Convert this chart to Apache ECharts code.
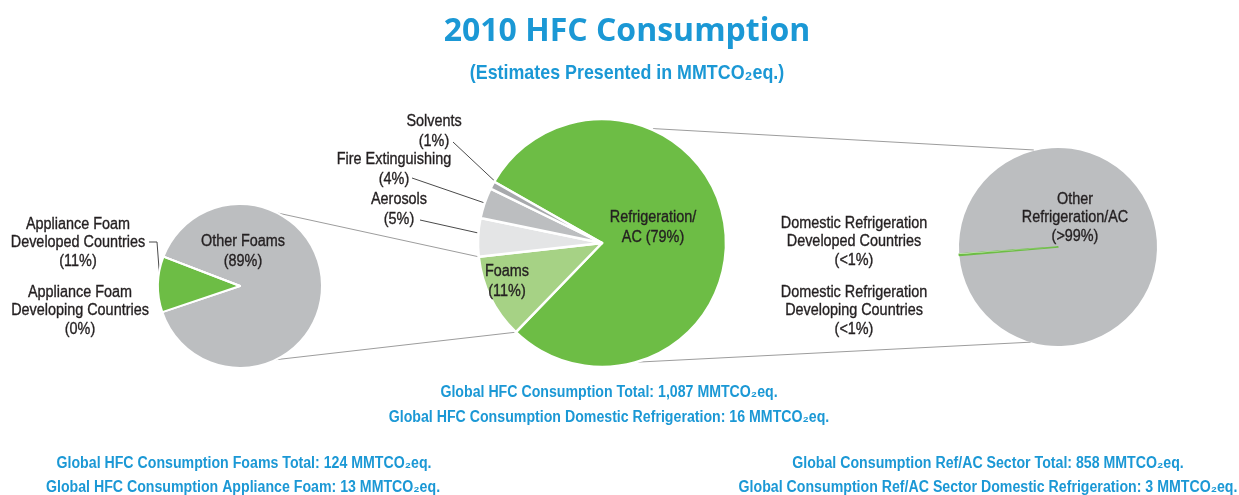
<!DOCTYPE html>
<html><head><meta charset="utf-8">
<script src="https://cdn.jsdelivr.net/npm/echarts@6/dist/echarts.min.js"></script>
<style>html,body{margin:0;padding:0;background:#fff}#c{width:1239px;height:495px}</style>
</head><body><div id="c"></div>
<script>
// ---------- DATA ----------
const titleText = '2010 HFC Consumption';
const subtitleText = '(Estimates Presented in MMTCO₂eq.)';

// Centre pie: share of 2010 global HFC consumption by sector (%)
const sectorCats = ['Refrigeration/AC', 'Foams', 'Aerosols', 'Fire Extinguishing', 'Solvents'];
const sectorPct = [79, 11, 5, 4, 1];
const sectorLabels = ['Refrigeration/\nAC (79%)', 'Foams\n(11%)', 'Aerosols\n(5%)', 'Fire Extinguishing\n(4%)', 'Solvents\n(1%)'];

// Left pie: foams breakdown (%)
const foamCats = ['Other Foams', 'Appliance Foam Developed Countries', 'Appliance Foam Developing Countries'];
const foamPct = [89, 11, 0];
const foamLabels = ['Other Foams\n(89%)', 'Appliance Foam\nDeveloped Countries\n(11%)', 'Appliance Foam\nDeveloping Countries\n(0%)'];

// Right pie: refrigeration/AC breakdown (MMTCO2eq, estimated)
const refCats = ['Other Refrigeration/AC', 'Domestic Refrigeration Developed Countries', 'Domestic Refrigeration Developing Countries'];
const refVals = [855, 2, 1];
const refLabels = ['Other\nRefrigeration/AC\n(>99%)', 'Domestic Refrigeration\nDeveloped Countries\n(<1%)', 'Domestic Refrigeration\nDeveloping Countries\n(<1%)'];

// Notes
const notesCenter = ['Global HFC Consumption Total: 1,087 MMTCO₂eq.', 'Global HFC Consumption Domestic Refrigeration: 16 MMTCO₂eq.'];
const notesLeft = ['Global HFC Consumption Foams Total: 124 MMTCO₂eq.', 'Global HFC Consumption Appliance Foam: 13 MMTCO₂eq.'];
const notesRight = ['Global Consumption Ref/AC Sector Total: 858 MMTCO₂eq.', 'Global Consumption Ref/AC Sector Domestic Refrigeration: 3 MMTCO₂eq.'];

// ---------- STYLE ----------
const GREEN = '#6dbd45', LGREEN = '#a6d285', GRAY = '#bcbec0', LGRAY = '#e4e5e6', DGRAY = '#a7a9ac';
const BLUE = '#1b98d5', DARK = '#231f20';
const sectorColors = [GREEN, LGREEN, LGRAY, GRAY, DGRAY];
const foamColors = [GRAY, GREEN, GREEN];
const refColors = [GRAY, GREEN, '#ffffff'];
const FONT = 'Liberation Sans, Arial, sans-serif';

const chart = echarts.init(document.getElementById('c'), null, {renderer: 'canvas'});

function pieSeries(cats, vals, colors, center, radius, startAngle, border) {
  return {
    type: 'pie', center: center, radius: radius, startAngle: startAngle, clockwise: true,
    silent: true, animation: false, avoidLabelOverlap: false,
    label: {show: false}, labelLine: {show: false},
    itemStyle: {borderColor: '#fff', borderWidth: border},
    data: cats.map((n, i) => ({name: n, value: vals[i], itemStyle: {color: colors[i]}}))
  };
}

const series = [
  pieSeries(foamCats, foamPct, foamColors, [240, 286], 82, 159, 2),
  pieSeries(sectorCats, sectorPct, sectorColors, [602, 243], 124, 150.4, 2.5),
  pieSeries(refCats, refVals, refColors, [1058, 247], 99, 183.7, 0)
];
series[2].data[1].itemStyle.borderColor = GREEN;
series[2].data[1].itemStyle.borderWidth = 1.5;

chart.setOption({backgroundColor: '#fff', animation: false, series: series});

function lay(si, di) {
  return chart.getModel().getSeriesByIndex(si).getData().getItemLayout(di);
}
function pt(l, angRad, f) {
  return [l.cx + l.r * f * Math.cos(angRad), l.cy + l.r * f * Math.sin(angRad)];
}
const D = Math.PI / 180;

function txt(x, y, text, o) {
  o = o || {};
  const st = {
    text: text, fontFamily: o.ff || FONT, fontSize: o.fs || 16, fontWeight: o.fw || 'normal',
    fill: o.color || DARK, textAlign: 'center', textVerticalAlign: 'middle',
    align: 'center', verticalAlign: 'middle', lineHeight: o.lh || 18.5
  };
  if (o.stroke) { st.stroke = o.color || DARK; st.lineWidth = o.stroke; }
  return {type: 'text', x: x, y: y, scaleX: o.sx || 0.9, z: 100, style: st};
}
function line(a, b, color, w) {
  return {type: 'line', z: 1, shape: {x1: a[0], y1: a[1], x2: b[0], y2: b[1]}, style: {stroke: color || '#9d9d9d', lineWidth: w || 1}};
}

const L = lay(0, 0), C = lay(1, 1), R = lay(2, 0);
const cSol = lay(1, 4), cFire = lay(1, 3), cAer = lay(1, 2);
const mid = l => (l.startAngle + l.endAngle) / 2;

const g = [];
// title
g.push(txt(627, 32, titleText, {ff: 'Open Sans, Noto Sans, sans-serif', fs: 32, fw: 'bold', color: BLUE, sx: 1}));
g.push(txt(627, 73, subtitleText, {fs: 21, fw: 'bold', color: BLUE, sx: 0.85}));

// connectors left pie -> foams slice
g.push(line(pt(L, -63 * D, 1), pt(C, C.endAngle, 1)));
g.push(line(pt(L, 64 * D, 1), pt(C, C.startAngle, 1)));
// connectors centre pie -> right pie
const CC = lay(1, 0);
g.push(line(pt(CC, -66 * D, 1.01), pt(R, -104 * D, 1.01)));
g.push(line(pt(CC, 74 * D, 1.0), pt(R, 106 * D, 1.0)));

const lo = {lh: 20, stroke: 0.35};
const lo2 = {stroke: 0.35};
// centre labels
g.push(txt(653, 228, sectorLabels[0], lo));
g.push(txt(507, 282, sectorLabels[1], lo));
g.push(txt(399, 210, sectorLabels[2], lo));
g.push(txt(394, 170, sectorLabels[3], lo));
g.push(txt(434, 132, sectorLabels[4], lo));
// leader lines
g.push(line([453, 142], pt(cSol, mid(cSol), 0.86), '#4a4a4a', 1));
g.push(line([412, 178], pt(cFire, mid(cFire), 0.82), '#4a4a4a', 1));
g.push(line([420, 220], pt(cAer, mid(cAer), 0.8), '#4a4a4a', 1));

// left labels
g.push(txt(78, 243, foamLabels[1], lo2));
g.push(txt(243, 252, foamLabels[0], lo));
g.push(txt(80, 311, foamLabels[2], lo2));
const Lg = lay(0, 1);
g.push({type: 'polyline', z: 1, shape: {points: [[149, 242], [157, 242], pt(Lg, Lg.startAngle, 1.0)]}, style: {stroke: '#4a4a4a', lineWidth: 1, fill: null}});

// right labels
g.push(txt(1075, 218, refLabels[0], lo2));
g.push(txt(854, 242, refLabels[1], lo2));
g.push(txt(854, 311, refLabels[2], lo2));

// notes
const nopt = {fs: 16, fw: 'bold', color: BLUE, sx: 0.885};
g.push(txt(609, 393, notesCenter[0], nopt));
g.push(txt(609, 418, notesCenter[1], nopt));
g.push(txt(244, 464, notesLeft[0], nopt));
g.push(txt(243, 488, notesLeft[1], nopt));
g.push(txt(988, 464, notesRight[0], nopt));
g.push(txt(988, 488, notesRight[1], nopt));

chart.setOption({graphic: {elements: g}});
</script>
</body></html>
